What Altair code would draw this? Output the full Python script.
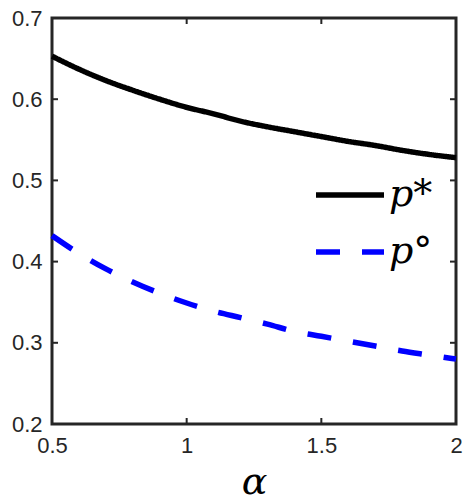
import altair as alt
import pandas as pd

alpha = [0.5, 0.6, 0.7, 0.8, 0.9, 1.0, 1.1, 1.2, 1.3, 1.4, 1.5, 1.6, 1.7, 1.8, 1.9, 2.0]
p_star = [0.653, 0.637, 0.623, 0.611, 0.600, 0.590, 0.582, 0.573, 0.566, 0.560,
          0.554, 0.548, 0.543, 0.537, 0.532, 0.528]
p_circ = [0.432, 0.410, 0.391, 0.375, 0.361, 0.349, 0.339, 0.331, 0.323, 0.314,
          0.308, 0.302, 0.296, 0.290, 0.285, 0.280]
series_names = ["p*", "p°"]
series_colors = ["#000000", "#0000ff"]
x_ticks = [0.5, 1, 1.5, 2]
y_ticks = [0.2, 0.3, 0.4, 0.5, 0.6, 0.7]
x_inner_ticks = [1, 1.5]
y_inner_ticks = [0.3, 0.4, 0.5, 0.6]

df = pd.DataFrame({
    "alpha": alpha + alpha,
    "value": p_star + p_circ,
    "series": [series_names[0]] * len(alpha) + [series_names[1]] * len(alpha),
})
xt = pd.DataFrame({"alpha": x_inner_ticks})
yt = pd.DataFrame({"value": y_inner_ticks})

W, H = 404, 406
TL = 6
SERIF = "DejaVu Serif"
xs = alt.Scale(domain=[0.5, 2], nice=False, zero=False)
ys = alt.Scale(domain=[0.2, 0.7], nice=False, zero=False)

x_axis = alt.Axis(values=x_ticks, format="~g", title="α", labelFlush=False,
                  labelOverlap=False, labelPadding=11,
                  titleFont=SERIF, titleFontStyle="italic",
                  titleFontSize=38, titleFontWeight="normal", titleColor="#000000",
                  titleBaseline="alphabetic", titleX=W / 2, titleY=69)
y_axis = alt.Axis(values=y_ticks, format=".1f", title=None, labelPadding=10,
                  labelOverlap=False, labelFlush=False)

lines = alt.Chart(df).mark_line(strokeWidth=5.5, strokeCap="butt", interpolate="monotone").encode(
    x=alt.X("alpha:Q", scale=xs, axis=x_axis),
    y=alt.Y("value:Q", scale=ys, axis=y_axis),
    color=alt.Color("series:N", scale=alt.Scale(domain=series_names, range=series_colors),
                    legend=alt.Legend(title=None)),
    strokeDash=alt.StrokeDash("series:N",
                              scale=alt.Scale(domain=series_names, range=[[1, 0], [24, 22]]),
                              legend=alt.Legend(title=None)),
)

tick_style = dict(color="#262626", strokeWidth=2)
left = alt.Chart(yt).mark_rule(**tick_style).encode(
    y=alt.Y("value:Q", scale=ys, axis=y_axis), x=alt.value(0), x2=alt.value(TL))
right = alt.Chart(yt).mark_rule(**tick_style).encode(
    y=alt.Y("value:Q", scale=ys, axis=y_axis), x=alt.value(W), x2=alt.value(W - TL))
bottom = alt.Chart(xt).mark_rule(**tick_style).encode(
    x=alt.X("alpha:Q", scale=xs, axis=x_axis), y=alt.value(H), y2=alt.value(H - TL))
top = alt.Chart(xt).mark_rule(**tick_style).encode(
    x=alt.X("alpha:Q", scale=xs, axis=x_axis), y=alt.value(0), y2=alt.value(TL))

chart = alt.layer(lines, left, right, bottom, top).properties(
    width=W, height=H,
    autosize=alt.AutoSizeParams(type="none"),
    padding={"left": 52, "top": 18, "right": 13, "bottom": 79},
).configure_view(
    stroke="#262626", strokeWidth=3
).configure_axis(
    domain=False, ticks=False, grid=False,
    labelFont="Liberation Sans", labelFontSize=22, labelColor="#262626",
).configure_legend(
    orient="none", legendX=295, legendY=157, padding=0,
    symbolType="M-3,0H1", symbolSize=1156, symbolStrokeWidth=5.5,
    labelFont=SERIF, labelFontStyle="italic", labelFontSize=38,
    labelColor="#000000", labelOffset=2, rowPadding=18, labelLimit=0,
)

chart.save("out.html", embed_options={"renderer": "svg", "actions": False})
